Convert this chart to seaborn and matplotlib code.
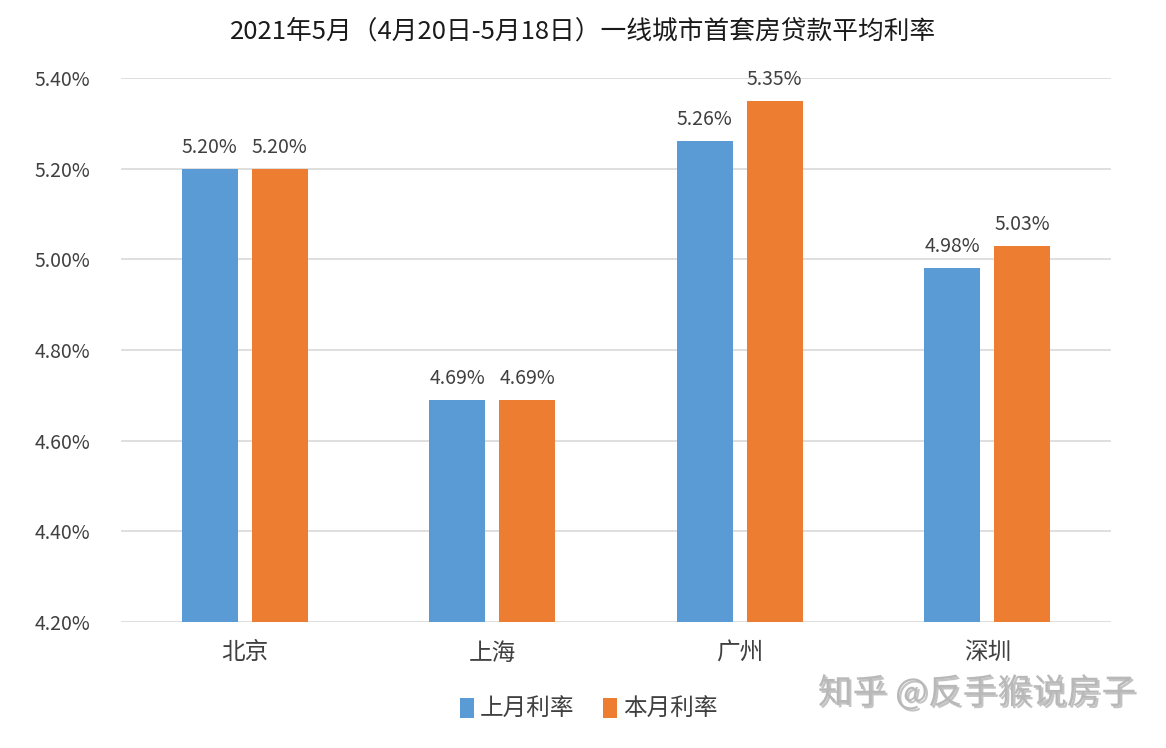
import matplotlib
matplotlib.use("Agg")
import matplotlib.pyplot as plt
import seaborn as sns
import pandas as pd
from matplotlib.patches import Patch
import matplotlib.patheffects as pe

cities = ["北京", "上海", "广州", "深圳"]
last_month = [5.20, 4.69, 5.26, 4.98]
this_month = [5.20, 4.69, 5.35, 5.03]
series_names = ["上月利率", "本月利率"]
yticks = [4.20, 4.40, 4.60, 4.80, 5.00, 5.20, 5.40]
title = "2021年5月（4月20日-5月18日）一线城市首套房贷款平均利率"
watermark = "知乎 @反手猴说房子"

colors = ["#5b9bd5", "#ed7d31"]

sns.set_theme(style="white")
plt.rcParams['font.family'] = ['Noto Sans CJK SC', 'DejaVu Sans']

df = pd.DataFrame({
    "city": cities * 2,
    "rate": last_month + this_month,
    "series": [series_names[0]] * 4 + [series_names[1]] * 4,
})

fig = plt.figure(figsize=(11.66, 7.48), dpi=100)
ax = fig.add_axes([0.1038, 0.1684, 0.8490, 0.7273])

sns.barplot(data=df, x="city", y="rate", hue="series", palette=colors,
            width=0.565, gap=0.2, ax=ax, legend=False, saturation=1,
            linewidth=0, edgecolor="none")

ax.set_ylim(4.20, 5.40)
ax.set_xlim(-0.5, 3.5)
ax.set_yticks(yticks)
ax.set_yticklabels([f"{v:.2f}%" for v in yticks], fontsize=14, color="#404040")
ax.tick_params(axis="y", length=0, pad=22)
ax.tick_params(axis="x", length=0, pad=14, labelsize=17, labelcolor="#404040")
ax.set_xlabel("")
ax.set_ylabel("")
for s in ax.spines.values():
    s.set_visible(False)
ax.yaxis.grid(True, color="#d9d9d9", linewidth=1.2)
ax.set_axisbelow(True)

for cont in ax.containers:
    ax.bar_label(cont, labels=[f"{v:.2f}%" for v in cont.datavalues],
                 padding=8, fontsize=14, color="#404040")

fig.text(0.5, 0.958, title, ha="center", va="center", fontsize=18.5, color="#1a1a1a")

handles = [Patch(facecolor=c, edgecolor="none") for c in colors]
fig.legend(handles, series_names, loc="center", bbox_to_anchor=(0.505, 0.051),
           ncol=2, frameon=False, fontsize=17, handlelength=0.6, handleheight=0.9,
           handletextpad=0.25, columnspacing=1.2, labelcolor="#404040")

fig.text(0.838, 0.073, watermark, ha="center", va="center", fontsize=25,
         color="#b8b8b8",
         path_effects=[pe.withSimplePatchShadow(offset=(1.5, -1.5), shadow_rgbFace="#888888", alpha=0.5)])

fig.savefig("out.png", dpi=100)
